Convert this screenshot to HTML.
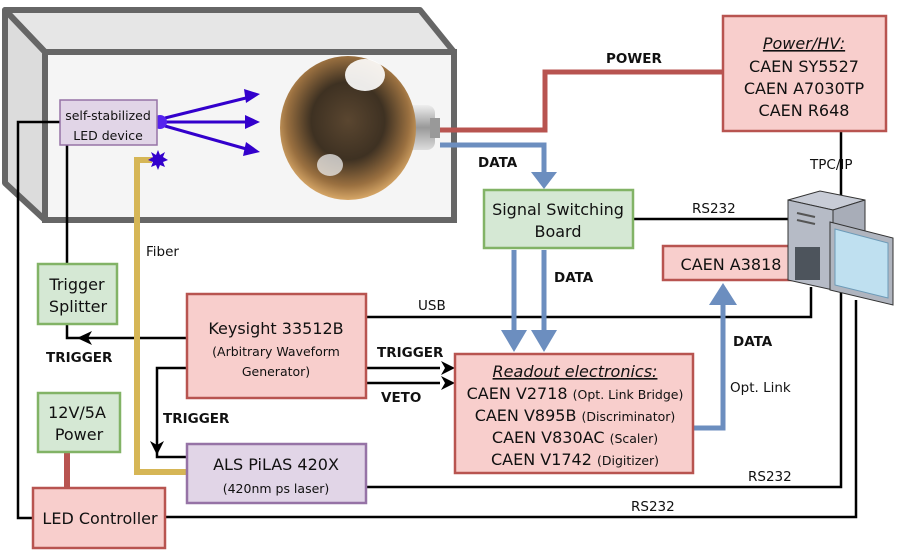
<!DOCTYPE html>
<html><head><meta charset="utf-8"><style>
html,body{margin:0;padding:0;background:#fff;}
svg text{font-family:"DejaVu Sans","Liberation Sans",sans-serif;fill:#111;}
</style></head><body>
<svg width="897" height="555" viewBox="0 0 897 555" xmlns="http://www.w3.org/2000/svg">
<defs>
<radialGradient id="pmt" cx="0.5" cy="0.45" r="0.6">
<stop offset="0" stop-color="#5a4630"/><stop offset="0.45" stop-color="#3e3122"/><stop offset="0.75" stop-color="#9a7040"/><stop offset="0.92" stop-color="#d8a868"/><stop offset="1" stop-color="#c0c0c0"/>
</radialGradient>
<linearGradient id="neck" x1="0" y1="0" x2="0" y2="1"><stop offset="0" stop-color="#eee"/><stop offset="0.5" stop-color="#999"/><stop offset="1" stop-color="#ddd"/></linearGradient>
</defs>
<!-- enclosure -->
<polygon points="5,10 420,10 454,52 45,52" fill="#e6e6e6" stroke="#666" stroke-width="6" stroke-linejoin="round"/>
<polygon points="5,10 45,52 45,220 5,183" fill="#dcdcdc" stroke="#666" stroke-width="6" stroke-linejoin="round"/>
<rect x="45" y="52" width="409" height="168" fill="#f5f5f5" stroke="#666" stroke-width="6"/>
<!-- PMT -->
<rect x="395" y="105" width="40" height="45" rx="8" fill="url(#neck)"/>
<rect x="430" y="118" width="10" height="20" fill="#999"/>
<ellipse cx="348" cy="128" rx="68" ry="72" fill="url(#pmt)"/>
<ellipse cx="365" cy="75" rx="20" ry="16" fill="#fff" opacity="0.9"/>
<ellipse cx="330" cy="165" rx="13" ry="11" fill="#eee" opacity="0.75"/>
<!-- lines -->
<g fill="none" stroke="#000" stroke-width="2.5">
<polyline points="60,122 18,122 18,518 33,518"/>
<line x1="67" y1="145" x2="67" y2="264"/>
<polyline points="67,324 67,338 187,338"/>
<polyline points="187,368 157,368 157,457 187,457"/>
<line x1="366" y1="368" x2="440" y2="368"/>
<line x1="366" y1="383" x2="440" y2="383"/>
<polyline points="366,317 811,317 811,287"/>
<line x1="633" y1="219" x2="790" y2="219"/>
<polyline points="841,132 841,487 366,487"/>
<polyline points="856,300 856,517 165,517"/>
</g>
<polygon points="77,338 92,331 88,338 92,345" fill="#000"/>
<polygon points="157,455 150,441 157,445 164,441" fill="#000"/>
<polygon points="455,368 441,361 445,368 441,375" fill="#000"/>
<polygon points="455,383 441,376 445,383 441,390" fill="#000"/>
<!-- fiber -->
<polyline points="187,472 137,472 137,160 152,160" fill="none" stroke="#d6b656" stroke-width="6"/>
<!-- power lines -->
<polyline points="440,130 545,130 545,72 722,72" fill="none" stroke="#b85450" stroke-width="5"/>
<line x1="67" y1="452" x2="67" y2="488" stroke="#b85450" stroke-width="6"/>
<!-- blue data -->
<g fill="none" stroke="#6c8ebf" stroke-width="5">
<polyline points="440,145 544,145 544,175"/>
<line x1="514" y1="250" x2="514" y2="335"/>
<line x1="544" y1="250" x2="544" y2="335"/>
<polyline points="693,428 723,428 723,300"/>
</g>
<polygon points="531,172 557,172 544,189" fill="#6c8ebf"/>
<polygon points="501,330 527,330 514,352" fill="#6c8ebf"/>
<polygon points="531,330 557,330 544,352" fill="#6c8ebf"/>
<polygon points="709,305 737,305 723,283" fill="#6c8ebf"/>
<!-- LED rays -->
<g stroke="#3300cc" stroke-width="3" fill="none">
<line x1="165" y1="118" x2="250" y2="97"/><line x1="165" y1="122" x2="250" y2="122"/><line x1="165" y1="126" x2="250" y2="150"/>
</g>
<polygon points="260,94 244,89 246,103" fill="#3300cc"/>
<polygon points="260,122 245,115 245,129" fill="#3300cc"/>
<polygon points="260,152 246,142 243,156" fill="#3300cc"/>
<circle cx="160" cy="122" r="7" fill="#5522ee"/>
<polygon points="158,150 160,155 165,152 163,157 168,160 163,162 165,167 160,165 158,170 156,165 151,167 153,162 148,160 153,157 151,152 156,155" fill="#3300cc"/>
<!-- boxes -->
<rect x="60" y="100" width="97" height="45" fill="#e1d5e7" stroke="#9673a6" stroke-width="1.5"/>
<text x="108" y="120" font-size="12.5" text-anchor="middle">self-stabilized</text>
<text x="108" y="140" font-size="12.5" text-anchor="middle">LED device</text>
<rect x="723" y="16" width="163" height="115" fill="#f8cecc" stroke="#b85450" stroke-width="2.5"/>
<text x="804" y="49" font-size="16" text-anchor="middle" font-style="italic" text-decoration="underline">Power/HV:</text>
<text x="804" y="72" font-size="16" text-anchor="middle">CAEN SY5527</text>
<text x="804" y="94" font-size="16" text-anchor="middle">CAEN A7030TP</text>
<text x="804" y="116" font-size="16" text-anchor="middle">CAEN R648</text>
<rect x="484" y="190" width="149" height="58" fill="#d5e8d4" stroke="#82b366" stroke-width="2.5"/>
<text x="558" y="215" font-size="16" text-anchor="middle">Signal Switching</text>
<text x="558" y="237" font-size="16" text-anchor="middle">Board</text>
<rect x="663" y="246" width="130" height="34" fill="#f8cecc" stroke="#b85450" stroke-width="2.5"/>
<text x="731" y="270" font-size="16" text-anchor="middle">CAEN A3818</text>
<rect x="455" y="354" width="238" height="119" fill="#f8cecc" stroke="#b85450" stroke-width="2.5"/>
<text x="575" y="377" font-size="16" text-anchor="middle" font-style="italic" text-decoration="underline">Readout electronics:</text>
<text x="575" y="399" font-size="16" text-anchor="middle">CAEN V2718 <tspan font-size="12.5">(Opt. Link Bridge)</tspan></text>
<text x="575" y="421" font-size="16" text-anchor="middle">CAEN V895B <tspan font-size="12.5">(Discriminator)</tspan></text>
<text x="575" y="443" font-size="16" text-anchor="middle">CAEN V830AC <tspan font-size="12.5">(Scaler)</tspan></text>
<text x="575" y="465" font-size="16" text-anchor="middle">CAEN V1742 <tspan font-size="12.5">(Digitizer)</tspan></text>
<rect x="187" y="294" width="179" height="104" fill="#f8cecc" stroke="#b85450" stroke-width="2.5"/>
<text x="276" y="334" font-size="16" text-anchor="middle">Keysight 33512B</text>
<text x="276" y="356" font-size="12.5" text-anchor="middle">(Arbitrary Waveform</text>
<text x="276" y="376" font-size="12.5" text-anchor="middle">Generator)</text>
<rect x="187" y="444" width="179" height="59" fill="#e1d5e7" stroke="#9673a6" stroke-width="2.5"/>
<text x="276" y="470" font-size="16" text-anchor="middle">ALS PiLAS 420X</text>
<text x="276" y="493" font-size="12.5" text-anchor="middle">(420nm ps laser)</text>
<rect x="38" y="264" width="79" height="60" fill="#d5e8d4" stroke="#82b366" stroke-width="2.5"/>
<text x="77" y="290" font-size="16" text-anchor="middle">Trigger</text>
<text x="78" y="312" font-size="16" text-anchor="middle">Splitter</text>
<rect x="38" y="393" width="82" height="59" fill="#d5e8d4" stroke="#82b366" stroke-width="2.5"/>
<text x="77" y="418" font-size="16" text-anchor="middle">12V/5A</text>
<text x="79" y="440" font-size="16" text-anchor="middle">Power</text>
<rect x="33" y="488" width="132" height="60" fill="#f8cecc" stroke="#b85450" stroke-width="2.5"/>
<text x="100" y="524" font-size="16" text-anchor="middle">LED Controller</text>
<!-- computer -->
<polygon points="788,200 820,191 865,200 833,210" fill="#c8ccd6" stroke="#333" stroke-width="1"/>
<polygon points="833,210 865,200 865,285 833,290" fill="#a8adb8" stroke="#333" stroke-width="1"/>
<polygon points="788,200 833,210 833,290 788,280" fill="#b6bbc6" stroke="#333" stroke-width="1"/>
<rect x="795" y="247" width="25" height="33" fill="#4d545c"/>
<line x1="797" y1="213" x2="815" y2="217" stroke="#555" stroke-width="2"/>
<line x1="797" y1="220" x2="815" y2="224" stroke="#555" stroke-width="2"/>
<polygon points="830,222 893,238 893,305 830,290" fill="#b0b5bf" stroke="#333" stroke-width="1"/>
<polygon points="835,229 888,243 888,298 835,285" fill="#bfe0f0" stroke="#6d9bb8" stroke-width="1"/>
<!-- labels -->
<g font-size="13.5" font-weight="bold">
<text x="606" y="63">POWER</text>
<text x="478" y="167">DATA</text>
<text x="554" y="282">DATA</text>
<text x="733" y="346">DATA</text>
<text x="46" y="362">TRIGGER</text>
<text x="163" y="423">TRIGGER</text>
<text x="377" y="357">TRIGGER</text>
<text x="381" y="402">VETO</text>
</g>
<g font-size="13.5">
<text x="146" y="256">Fiber</text>
<text x="418" y="310">USB</text>
<text x="692" y="213">RS232</text>
<text x="810" y="169">TPC/IP</text>
<text x="730" y="392">Opt. Link</text>
<text x="748" y="481">RS232</text>
<text x="631" y="511">RS232</text>
</g>
</svg>
</body></html>
